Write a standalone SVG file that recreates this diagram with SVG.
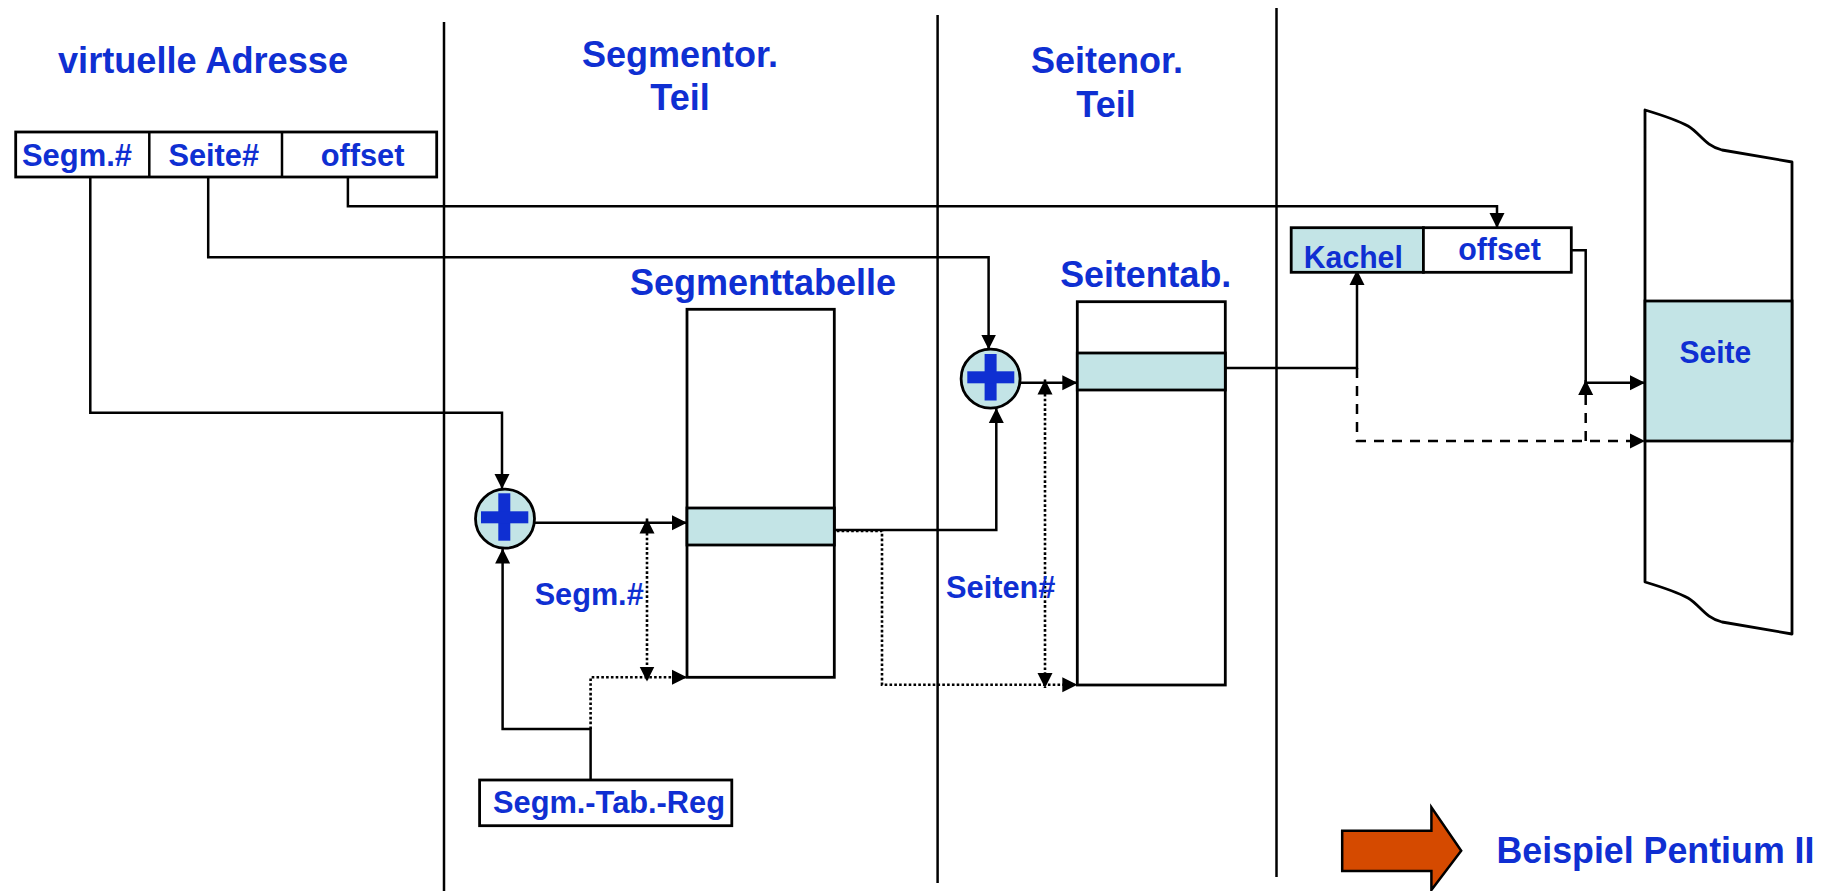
<svg xmlns="http://www.w3.org/2000/svg" width="1823" height="891" viewBox="0 0 1823 891">
<style>
text{font-family:"Liberation Sans",Arial,sans-serif;font-weight:bold;fill:#0F2FD2}
.t{font-size:36px}
.s{font-size:31.5px}
.box{fill:#fff;stroke:#000;stroke-width:2.8}
.hl{fill:#C3E4E6;stroke:#000;stroke-width:2.8}
.ln{fill:none;stroke:#000;stroke-width:2.5}
.dot{fill:none;stroke:#000;stroke-width:2.6;stroke-dasharray:2.6 2.2}
.dash{fill:none;stroke:#000;stroke-width:2.5;stroke-dasharray:10 8}
.plus{fill:#0F2FD2}
</style>
<defs>
<marker id="ah" markerUnits="userSpaceOnUse" markerWidth="16" markerHeight="16" refX="15" refY="7.5" orient="auto-start-reverse" viewBox="0 0 16 15">
<path d="M0,0 L15,7.5 L0,15 z" fill="#000"/>
</marker>
</defs>
<rect width="1823" height="891" fill="#fff"/>
<g id="dividers">
<line class="ln" x1="444" y1="22" x2="444" y2="891"/>
<line class="ln" x1="937.6" y1="15" x2="937.6" y2="883"/>
<line class="ln" x1="1276.5" y1="8" x2="1276.5" y2="877"/>
</g>
<g id="headers">
<text class="t" x="58" y="73" textLength="290" lengthAdjust="spacingAndGlyphs">virtuelle Adresse</text>
<text class="t" x="680" y="67" text-anchor="middle">Segmentor.</text>
<text class="t" x="680" y="110" text-anchor="middle">Teil</text>
<text class="t" x="1107" y="73" text-anchor="middle">Seitenor.</text>
<text class="t" x="1106" y="117" text-anchor="middle">Teil</text>
</g>
<g id="connectors">
<path class="ln" d="M90.3,177 V412.7 H502 V489" marker-end="url(#ah)"/>
<path class="ln" d="M208.2,177 V257.3 H988.6 V349.5" marker-end="url(#ah)"/>
<path class="ln" d="M347.9,177 V206.3 H1497 V228" marker-end="url(#ah)"/>
<path class="ln" d="M534,522.7 H687" marker-end="url(#ah)"/>
<path class="ln" d="M590.6,780 V729 H502.6 V548.5" marker-end="url(#ah)"/>
<path class="dot" d="M590.6,729 V677.3 H687" marker-end="url(#ah)"/>
<path class="dot" d="M647,518.5 V681.5" marker-start="url(#ah)" marker-end="url(#ah)"/>
<path class="ln" d="M832,530 H996.3 V408" marker-end="url(#ah)"/>
<path class="dot" d="M832,531 H882 V684.7 H1077.3" marker-end="url(#ah)"/>
<path class="ln" d="M1019.7,382.7 H1077.3" marker-end="url(#ah)"/>
<path class="dot" d="M1045,379.5 V688" marker-start="url(#ah)" marker-end="url(#ah)"/>
<path class="ln" d="M1225.3,368 H1357 V270" marker-end="url(#ah)"/>
<path class="dash" d="M1357,368 V441 H1645" marker-end="url(#ah)"/>
<path class="dash" d="M1585.7,441 V380" marker-end="url(#ah)"/>
<path class="ln" d="M1571.3,250.3 H1585.7 V382.7 H1645" marker-end="url(#ah)"/>
</g>
<g id="virt-addr">
<rect class="box" x="15.7" y="132" width="421" height="45"/>
<line class="ln" x1="149.3" y1="132" x2="149.3" y2="177" stroke-width="2.8"/>
<line class="ln" x1="282" y1="132" x2="282" y2="177" stroke-width="2.8"/>
<text class="s" x="22" y="166" textLength="110" lengthAdjust="spacingAndGlyphs">Segm.#</text>
<text class="s" x="168.4" y="166" textLength="90.6" lengthAdjust="spacingAndGlyphs">Seite#</text>
<text class="s" x="320.7" y="166" textLength="83.8" lengthAdjust="spacingAndGlyphs">offset</text>
</g>
<g id="adder1">
<circle cx="505" cy="518.7" r="29.5" fill="#C3E4E6" stroke="#000" stroke-width="2.8"/>
<rect class="plus" x="498.3" y="493.3" width="12" height="47.4"/>
<rect class="plus" x="481" y="511.3" width="47.3" height="12"/>
</g>
<g id="segtab-reg">
<rect class="box" x="479.6" y="780" width="252.2" height="45.7"/>
<text class="s" x="493" y="812.7" textLength="232" lengthAdjust="spacingAndGlyphs">Segm.-Tab.-Reg</text>
</g>
<text id="lbl-segm" class="s" x="534.7" y="605" textLength="109" lengthAdjust="spacingAndGlyphs">Segm.#</text>
<g id="segmenttabelle">
<text class="t" x="630" y="295" textLength="266" lengthAdjust="spacingAndGlyphs">Segmenttabelle</text>
<rect class="box" x="687" y="309.3" width="147.3" height="368"/>
<rect class="hl" x="687" y="508" width="147.3" height="37"/>
</g>
<g id="adder2">
<circle cx="990.6" cy="378.7" r="29.5" fill="#C3E4E6" stroke="#000" stroke-width="2.8"/>
<rect class="plus" x="984.6" y="354" width="12" height="46.5"/>
<rect class="plus" x="967.3" y="371.3" width="47" height="12"/>
</g>
<text id="lbl-seiten" class="s" x="946" y="598" textLength="109.5" lengthAdjust="spacingAndGlyphs">Seiten#</text>
<g id="seitentab">
<text class="t" x="1060.2" y="286.7" textLength="171" lengthAdjust="spacingAndGlyphs">Seitentab.</text>
<rect class="box" x="1077.3" y="301.7" width="148" height="383.3"/>
<rect class="hl" x="1077.3" y="353" width="148" height="37"/>
</g>
<g id="phys-addr">
<rect class="hl" x="1291.2" y="227.7" width="132.2" height="44.6"/>
<rect class="box" x="1423.4" y="227.7" width="147.9" height="44.6"/>
<text class="s" x="1303.8" y="268.3" textLength="99" lengthAdjust="spacingAndGlyphs">Kachel</text>
<text class="s" x="1458.2" y="260" textLength="82.6" lengthAdjust="spacingAndGlyphs">offset</text>
</g>
<g id="memory">
<path d="M1645,110 Q1675,119 1688,126 C1700,133 1705,146 1722,150 L1792,162 V634 L1722,622 C1705,618 1700,605 1688,598 Q1675,591 1645,582 Z" fill="#fff" stroke="#000" stroke-width="2.8" stroke-linejoin="round"/>
<rect class="hl" x="1645" y="301" width="147" height="140"/>
<text class="s" x="1679.4" y="362.7" textLength="71.8" lengthAdjust="spacingAndGlyphs">Seite</text>
</g>
<g id="beispiel">
<path d="M1342.2,830.7 H1431.4 V807.3 L1461.2,850.7 L1431.4,890 V871 H1342.2 Z" fill="#D54A00" stroke="#000" stroke-width="2.5" stroke-linejoin="miter"/>
<text class="t" x="1496.5" y="862.7" textLength="318" lengthAdjust="spacingAndGlyphs">Beispiel Pentium II</text>
</g>
</svg>
